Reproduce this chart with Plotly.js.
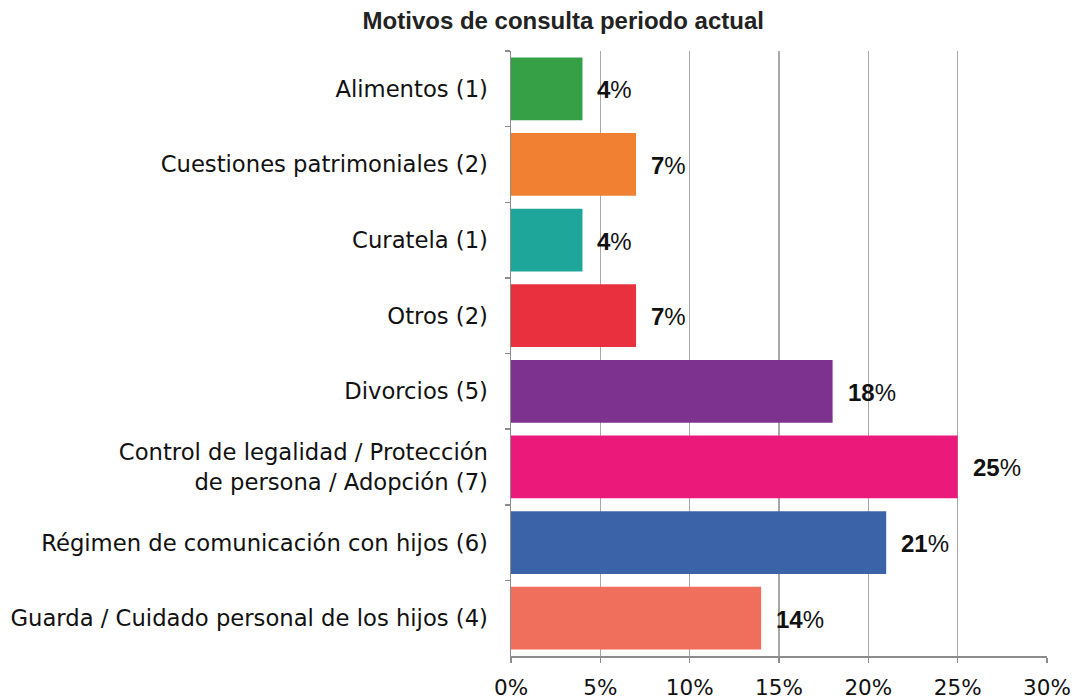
<!DOCTYPE html>
<html><head><meta charset="utf-8">
<script src="https://cdn.plot.ly/plotly-3.0.1.min.js"></script>
<style>html,body{margin:0;padding:0;background:#fff}#chart{width:1077px;height:700px}</style>
</head><body><div id="chart"></div>
<script>
const categories = [
  "Alimentos (1)",
  "Cuestiones patrimoniales (2)",
  "Curatela (1)",
  "Otros (2)",
  "Divorcios (5)",
  "Control de legalidad / Protección<br>de persona / Adopción (7)",
  "Régimen de comunicación con hijos (6)",
  "Guarda / Cuidado personal de los hijos (4)"
];
const values = [4, 7, 4, 7, 18, 25, 21, 14];
const colors = ["#35A046", "#F28032", "#1FA69A", "#E8303E", "#7D3290", "#EB1A7A", "#3B63A8", "#F06E5C"];
const tickVals = [0, 5, 10, 15, 20, 25, 30];
const tickText = ["0%", "5%", "10%", "15%", "20%", "25%", "30%"];

const trace = {
  type: "bar", orientation: "h",
  x: values, y: categories,
  marker: {color: colors, line: {width: 0}},
  hoverinfo: "none"
};
const annotations = values.map((v, i) => ({
  x: v, y: categories[i], xref: "x", yref: "y",
  text: "<b>" + v + "</b>%", showarrow: false,
  xanchor: "left", xshift: 13, yshift: -1,
  font: {family: "Liberation Sans, Arial, sans-serif", size: 24, color: "#111"}
}));
const layout = {
  width: 1077, height: 700,
  margin: {l: 511, r: 30, t: 51, b: 44},
  paper_bgcolor: "#fff", plot_bgcolor: "#fff",
  title: {text: "<b>Motivos de consulta periodo actual</b>", x: 0.523, xanchor: "center", y: 0.97, yanchor: "middle",
    font: {family: "Liberation Sans, Arial, sans-serif", size: 24, color: "#222"}},
  bargap: 0.17,
  showlegend: false,
  xaxis: {
    range: [0, 30], tickvals: tickVals, ticktext: tickText,
    showgrid: true, gridcolor: "#A8A8A8", gridwidth: 1.5,
    showline: true, linecolor: "#8C8C8C", linewidth: 1.5,
    ticks: "outside", ticklen: 5, tickcolor: "#8C8C8C", tickwidth: 1.5,
    tickfont: {family: "DejaVu Sans, sans-serif", size: 21.5, color: "#111"},
    ticklabelstandoff: 7, zeroline: false, fixedrange: true
  },
  yaxis: {
    type: "category", autorange: "reversed",
    showline: true, linecolor: "#8C8C8C", linewidth: 1.5,
    ticks: "outside", ticklen: 5, tickcolor: "#8C8C8C", tickwidth: 1.5,
    tickson: "boundaries", showgrid: false,
    tickfont: {family: "DejaVu Sans, sans-serif", size: 22.7, color: "#111"},
    ticklabelstandoff: 17, fixedrange: true
  },
  annotations: annotations
};
Plotly.newPlot("chart", [trace], layout, {displayModeBar: false, staticPlot: true});
</script></body></html>
